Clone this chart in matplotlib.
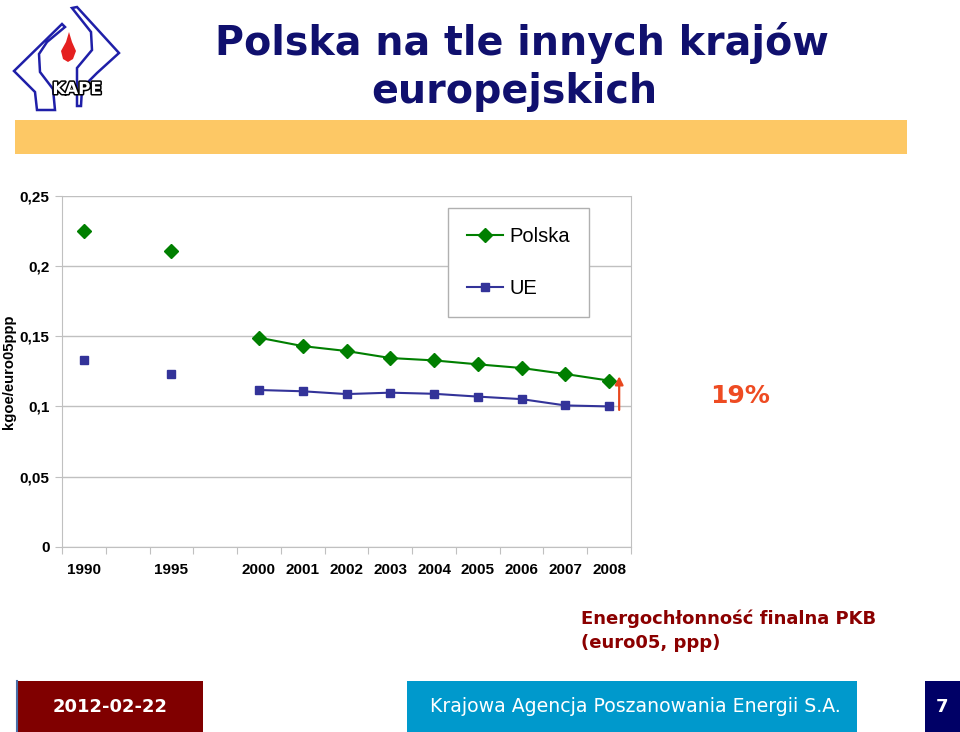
import matplotlib
matplotlib.use("Agg")
import matplotlib.pyplot as plt
import matplotlib.patheffects as pe
from matplotlib.patches import Polygon, Rectangle
import numpy as np

# Data (13 category slots, empty slots between 1990, 1995 and 2000)
years = ['1990', '', '1995', '', '2000', '2001', '2002', '2003', '2004', '2005', '2006', '2007', '2008']
polska = [0.225, np.nan, 0.2105, np.nan, 0.149, 0.143, 0.1395, 0.1345, 0.1328, 0.130, 0.1274, 0.1231, 0.1184]
ue = [0.1334, np.nan, 0.1229, np.nan, 0.1117, 0.1108, 0.1088, 0.1098, 0.1090, 0.1070, 0.1052, 0.1007, 0.1000]
series_names = ['Polska', 'UE']
yticks = [0, 0.05, 0.1, 0.15, 0.2, 0.25]
ytick_labels = ['0', '0,05', '0,1', '0,15', '0,2', '0,25']

W, H = 960, 732
fig = plt.figure(figsize=(W / 100, H / 100), dpi=100)

# background layer in pixel coordinates
bg = fig.add_axes([0, 0, 1, 1])
bg.set_xlim(0, W)
bg.set_ylim(H, 0)
bg.axis('off')

# logo
left_piece = [(62, 24), (65, 27), (47, 42), (39, 54), (40, 72), (53, 89), (55, 110),
              (37, 110), (35, 92), (14, 71)]
right_piece = [(72, 8), (77, 7), (119, 53), (97, 73), (82, 88), (81, 106), (77, 106),
               (77, 68), (92, 50), (91, 32)]
for pts in (left_piece, right_piece):
    bg.add_patch(Polygon(pts, closed=True, fill=False, edgecolor='#1f1fa8', lw=1.8))
drop = [(69, 32), (72, 42), (76, 51), (73, 59), (68, 62), (63, 59), (61, 51), (66, 42)]
bg.add_patch(Polygon(drop, closed=True, facecolor='#e52020', edgecolor='none'))
bg.text(77, 89, 'KAPE', ha='center', va='center', fontsize=12, fontweight='bold',
        color='white', family='DejaVu Sans',
        path_effects=[pe.withStroke(linewidth=2.2, foreground='black')])

# title
title_color = '#10106e'
bg.text(522, 55, 'Polska na tle innych krajów', ha='center', va='baseline',
        fontsize=28.5, fontweight='bold', color=title_color, family='DejaVu Sans')
bg.text(514, 103, 'europejskich', ha='center', va='baseline',
        fontsize=28.5, fontweight='bold', color=title_color, family='DejaVu Sans')

# yellow band
bg.add_patch(Rectangle((15, 120), 892, 34, facecolor='#fdc865', edgecolor='none'))

# footer
bg.add_patch(Rectangle((16, 681), 187, 51, facecolor='#800000', edgecolor='none'))
bg.plot([16.5, 16.5], [681, 732], color='#4a6fa8', lw=1.5)
bg.add_patch(Rectangle((407, 681), 450, 51, facecolor='#0099cc', edgecolor='none'))
bg.add_patch(Rectangle((925, 681), 35, 51, facecolor='#000066', edgecolor='none'))
bg.text(110, 707, '2012-02-22', ha='center', va='center', fontsize=13,
        fontweight='bold', color='white', family='DejaVu Sans')
bg.text(635, 707, 'Krajowa Agencja Poszanowania Energii S.A.', ha='center', va='center',
        fontsize=13.6, color='white', family='DejaVu Sans')
bg.text(942, 707, '7', ha='center', va='center', fontsize=13,
        fontweight='bold', color='white', family='DejaVu Sans')

# caption
cap_color = '#8b0000'
bg.text(581, 624, 'Energochłonność finalna PKB', ha='left', va='baseline',
        fontsize=13, fontweight='bold', color=cap_color, family='DejaVu Sans')
bg.text(581, 648, '(euro05, ppp)', ha='left', va='baseline',
        fontsize=13, fontweight='bold', color=cap_color, family='DejaVu Sans')

# percentage
bg.text(740, 396, '19%', ha='center', va='center', fontsize=18, fontweight='bold',
        color='#ee4b22', family='DejaVu Sans')

# chart
ax = fig.add_axes([62 / W, 1 - 546.7 / H, 569 / W, 350.7 / H])
x = np.arange(len(years))
ax.plot(x, polska, color='#007f00', lw=1.5, marker='D', ms=7.5,
        markerfacecolor='#007f00', markeredgecolor='#007f00', label=series_names[0])
ax.plot(x, ue, color='#333399', lw=1.5, marker='s', ms=5.5,
        markerfacecolor='#333399', markeredgecolor='#333399', label=series_names[1])

ax.set_xlim(-0.5, len(years) - 0.5)
ax.set_ylim(0, 0.25)
ax.set_yticks(yticks)
ax.set_yticklabels(ytick_labels)
ax.yaxis.grid(True, color='#c0c0c0', lw=1)
ax.set_axisbelow(True)

ax.set_xticks(np.arange(-0.5, len(years), 1.0))
ax.set_xticklabels([])
ax.set_xticks(x, minor=True)
ax.set_xticklabels(years, minor=True)
ax.tick_params(axis='x', which='major', length=5, color='#c0c0c0', direction='out')
ax.tick_params(axis='x', which='minor', length=0, pad=12)
ax.tick_params(axis='y', length=5, color='#c0c0c0', pad=4)
for lab in ax.get_xticklabels(minor=True) + ax.get_yticklabels():
    lab.set_fontfamily('Liberation Sans')
    lab.set_fontweight('bold')
    lab.set_fontsize(11)
for sp in ax.spines.values():
    sp.set_color('#c0c0c0')
ax.spines['top'].set_visible(False)

ax.set_ylabel('kgoe/euro05ppp', fontsize=10.7, fontweight='bold', family='Liberation Sans',
              va='center')
ax.yaxis.set_label_coords(-0.094, 0.5)

# arrow next to 2008
ax.annotate('', xy=(12.23, 0.1215), xytext=(12.23, 0.0975),
            arrowprops=dict(arrowstyle='-|>', color='#e8471e', lw=1.6,
                            mutation_scale=12, shrinkA=0, shrinkB=0))

leg = ax.legend(loc='upper left', bbox_to_anchor=(0.678, 0.966), fancybox=False,
                framealpha=1, edgecolor='#b0b0b0', prop={'family': 'Liberation Sans', 'size': 14.5},
                handlelength=1.8, handletextpad=0.3, labelspacing=1.65, borderpad=0.95,
                borderaxespad=0)
leg.get_frame().set_linewidth(1)

fig.savefig('out.png', dpi=100)
